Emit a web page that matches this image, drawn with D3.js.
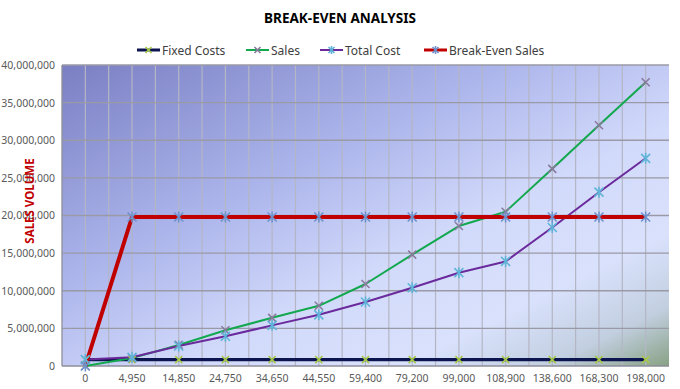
<!DOCTYPE html>
<meta charset="utf-8">
<script src="https://d3js.org/d3.v7.min.js"></script>
<style>
  body { margin: 0; background: #fff; }
  text { font-family: "Noto Sans", "Open Sans", sans-serif; }
</style>
<div id="chart"></div>
<script>

    // chart data
    const units = ["0", "4,950", "14,850", "24,750", "34,650", "44,550", "59,400",
        "79,200", "99,000", "108,900", "138,600", "168,300", "198,000"]
    const fixedCosts = [850000, 850000, 850000, 850000, 850000, 850000, 850000,
        850000, 850000, 850000, 850000, 850000, 850000]
    const sales = [0, 1050000, 2800000, 4750000, 6400000, 8000000, 10900000,
        14800000, 18600000, 20500000, 26200000, 32000000, 37700000]
    const totalCost = [850000, 1150000, 2650000, 3950000, 5400000, 6800000, 8500000,
        10400000, 12400000, 13900000, 18400000, 23100000, 27600000]
    const breakEven = [0, 19800000, 19800000, 19800000, 19800000, 19800000, 19800000,
        19800000, 19800000, 19800000, 19800000, 19800000, 19800000]
    const yTicks = [0, 5000000, 10000000, 15000000, 20000000, 25000000, 30000000, 35000000, 40000000]

    const W = 680, H = 389
    const margin = { top: 65, right: 11, bottom: 23, left: 62 },
        width = W - margin.left - margin.right,
        height = H - margin.top - margin.bottom

    const svg = d3.select("#chart")
        .append("svg")
        .attr("width", W)
        .attr("height", H)

    // background gradient for the plot area
    const defs = svg.append("defs")
    const grad = defs.append("linearGradient")
        .attr("id", "bg")
        .attr("x1", 0).attr("y1", 0).attr("x2", 1).attr("y2", 1)
    const stops = [[0, "#7a7fc3"], [0.35, "#aab3ea"], [0.6, "#d2dafb"], [0.78, "#d9e1fc"],
        [0.9, "#c2cfe0"], [1, "#88a184"]]
    stops.forEach(s => grad.append("stop").attr("offset", s[0]).attr("stop-color", s[1]))

    const g = svg.append("g")
        .attr("transform", `translate(${margin.left},${margin.top})`)

    g.append("rect")
        .attr("width", width)
        .attr("height", height)
        .attr("fill", "url(#bg)")

    // scales
    const x = d3.scaleBand().domain(units).range([0, width]).padding(0)
    const cx = d => x(d) + x.bandwidth() / 2
    const y = d3.scaleLinear().domain([0, 40000000]).range([height, 0])

    // vertical gridlines at band edges and centres
    const vLines = []
    units.forEach(u => { vLines.push(x(u)); vLines.push(cx(u)) })
    vLines.push(width)
    g.selectAll(".vgrid")
        .data(vLines.filter(v => v > 1 && v < width - 1))
        .join("line")
        .attr("x1", d => d).attr("x2", d => d)
        .attr("y1", 0).attr("y2", height)
        .attr("stroke", "#b4b6c4")
        .attr("stroke-width", 1.2)

    // horizontal gridlines
    g.selectAll(".hgrid")
        .data(yTicks.slice(1))
        .join("line")
        .attr("x1", 0).attr("x2", width)
        .attr("y1", d => y(d)).attr("y2", d => y(d))
        .attr("stroke", "#9a9aa6")
        .attr("stroke-width", 1.3)

    // plot border (left + bottom)
    g.append("line").attr("x1", 0).attr("x2", 0).attr("y1", 0).attr("y2", height)
        .attr("stroke", "#8e8e98").attr("stroke-width", 1.3)
    g.append("line").attr("x1", 0).attr("x2", width).attr("y1", height).attr("y2", height)
        .attr("stroke", "#8e8e98").attr("stroke-width", 1.3)

    // axes
    const yAxis = g.append("g")
        .call(d3.axisLeft(y).tickValues(yTicks).tickSize(0).tickPadding(7)
            .tickFormat(d3.format(",")))
    yAxis.select(".domain").remove()
    yAxis.selectAll("text").attr("fill", "#595959").style("font-size", "10.5px")

    const xAxis = g.append("g")
        .attr("transform", `translate(0,${height})`)
        .call(d3.axisBottom(x).tickSize(0).tickPadding(9))
    xAxis.select(".domain").remove()
    xAxis.selectAll("text").attr("fill", "#595959").style("font-size", "10.5px")

    // markers
    function marker(sel, type, color, size) {
        const s = size / 2
        let d = `M${-s},${-s}L${s},${s}M${-s},${s}L${s},${-s}`
        if (type === "star") d += `M0,${-s - 1}L0,${s + 1}`
        sel.append("path")
            .attr("d", d)
            .attr("stroke", color)
            .attr("stroke-width", 1.6)
            .attr("fill", "none")
    }

    const series = [
        { name: "Fixed Costs", values: fixedCosts, color: "#0d1550", width: 3.2, mark: "x", mcolor: "#a8c94a", msize: 7 },
        { name: "Sales", values: sales, color: "#12a84e", width: 2, mark: "x", mcolor: "#8a7a9c", msize: 8 },
        { name: "Total Cost", values: totalCost, color: "#6a2a9c", width: 2, mark: "star", mcolor: "#5fb4d8", msize: 9 },
        { name: "Break-Even Sales", values: breakEven, color: "#c00000", width: 4, mark: "star", mcolor: "#6f92cc", msize: 9 }
    ]

    const line = d3.line()
        .x((d, i) => cx(units[i]))
        .y(d => y(d))

    series.forEach(s => {
        g.append("path")
            .datum(s.values)
            .attr("d", line)
            .attr("fill", "none")
            .attr("stroke", s.color)
            .attr("stroke-width", s.width)
            .attr("stroke-linejoin", "round")
    })
    series.forEach(s => {
        s.values.forEach((v, i) => {
            const m = g.append("g").attr("transform", `translate(${cx(units[i])},${y(v)})`)
            marker(m, s.mark, s.mcolor, s.msize)
        })
    })

    // title
    svg.append("text")
        .attr("x", 340).attr("y", 23)
        .attr("text-anchor", "middle")
        .style("font-size", "13.5px")
        .style("font-weight", "bold")
        .attr("fill", "#000")
        .text("BREAK-EVEN ANALYSIS")

    // y axis title
    svg.append("text")
        .attr("transform", "translate(34,201) rotate(-90)")
        .attr("text-anchor", "middle")
        .style("font-size", "11.5px")
        .style("font-weight", "bold")
        .attr("fill", "#c00000")
        .text("SALES VOLUME")

    // legend
    const legendX = [137, 246, 320, 424]
    const legend = svg.append("g").attr("transform", "translate(0,50)")
    series.forEach((s, i) => {
        const lg = legend.append("g").attr("transform", `translate(${legendX[i]},0)`)
        lg.append("line")
            .attr("x1", 0).attr("x2", 23).attr("y1", 0).attr("y2", 0)
            .attr("stroke", s.color)
            .attr("stroke-width", Math.min(s.width, 3))
        const m = lg.append("g").attr("transform", "translate(11.5,0)")
        marker(m, s.mark, s.mcolor, 6)
        lg.append("text")
            .attr("x", 25).attr("y", 4.5)
            .style("font-size", "12px")
            .attr("fill", "#404040")
            .text(s.name)
    })
</script>
